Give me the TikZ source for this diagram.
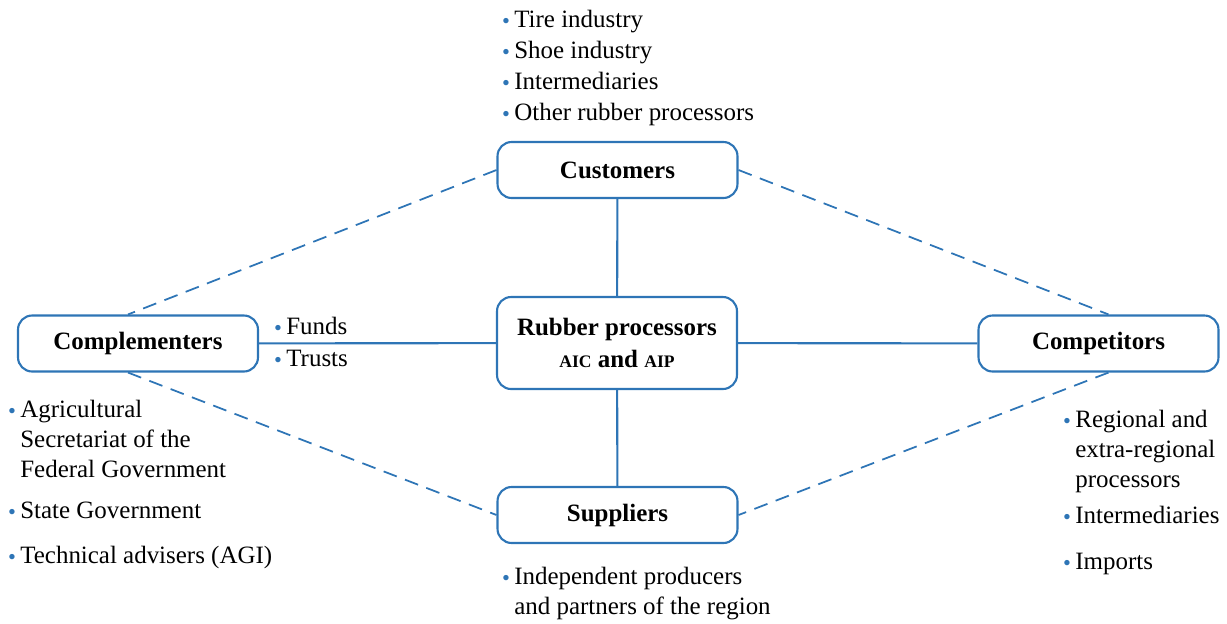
\documentclass[tikz,border=0pt]{standalone}
\usepackage{fontspec}
\setmainfont{Liberation Serif}
\usepackage{xcolor}
\usepackage{graphicx}
\usetikzlibrary{positioning}
\definecolor{lineblue}{RGB}{46,117,182}
\newcommand{\dotitem}{\llap{\textcolor{lineblue}{\raisebox{-.15ex}{\scalebox{.9}{\textbullet}}}\hspace{2.5pt}}}
\tikzset{
  actor/.style={draw=lineblue, line width=1.2pt, rounded corners=8pt, fill=white,
    minimum width=4.8cm, minimum height=1.12cm,
    font=\fontsize{14.2}{17}\selectfont\bfseries, align=center},
  link/.style={draw=lineblue, line width=1.2pt},
  weaklink/.style={draw=lineblue, line width=1pt, dash pattern=on 8pt off 5pt},
  itemlist/.style={inner sep=0pt, anchor=base west, align=left}
}

\begin{document}
\begin{tikzpicture}[x=0.02cm, y=-0.02cm, font=\fontsize{14.2}{17}\selectfont]
\useasboundingbox (0,0) rectangle (1227,623);
% boxes
\node[actor] (cust) at (617.5, 170) {Customers};
\node[actor, minimum height=1.84cm] (proc) at (617, 343) {Rubber processors\\[1pt]{\fontsize{10}{12}\selectfont AIC} and {\fontsize{10}{12}\selectfont AIP}};
\node[actor] (compl) at (138, 343.5) {Complementers};
\node[actor] (comp) at (1098.5, 343.5) {Competitors};
\node[actor] (supp) at (617.5, 515) {Suppliers};
% solid links
\draw[link] (cust) -- (proc);
\draw[link] (proc) -- (supp);
\draw[link] (compl) -- (proc);
\draw[link] (proc) -- (comp);
% dashed links
\draw[weaklink] (cust.west) -- ([xshift=-0.2cm]compl.north);
\draw[weaklink] ([xshift=-0.2cm]compl.south) -- (supp.west);
\draw[weaklink] (cust.east) -- ([xshift=0.2cm]comp.north);
\draw[weaklink] ([xshift=0.2cm]comp.south) -- (supp.east);
% customers (base = last line)
\node[itemlist] (custa) at (514, 27) {\dotitem Tire industry};
\node[itemlist] (custb) at (514, 58) {\dotitem Shoe industry};
\node[itemlist] (custc) at (514, 89) {\dotitem Intermediaries};
\node[itemlist] (custd) at (514, 120) {\dotitem Other rubber processors};
% complementers
\node[itemlist] (funds) at (286, 334) {\dotitem Funds};
\node[itemlist] (trusts) at (286, 366) {\dotitem Trusts};
\node[itemlist] (agri) at (20, 477) {\dotitem Agricultural\\Secretariat of the\\Federal Government};
\node[itemlist] (state) at (20, 518) {\dotitem State Government};
\node[itemlist] (tech) at (20, 563) {\dotitem Technical advisers (AGI)};
% competitors
\node[itemlist] (regio) at (1075, 487) {\dotitem Regional and\\extra-regional\\processors};
\node[itemlist] (inter) at (1075, 523) {\dotitem Intermediaries};
\node[itemlist] (imp) at (1075, 569) {\dotitem Imports};
% suppliers
\node[itemlist] (indep) at (514, 614) {\dotitem Independent producers\\and partners of the region};
\end{tikzpicture}
\end{document}
